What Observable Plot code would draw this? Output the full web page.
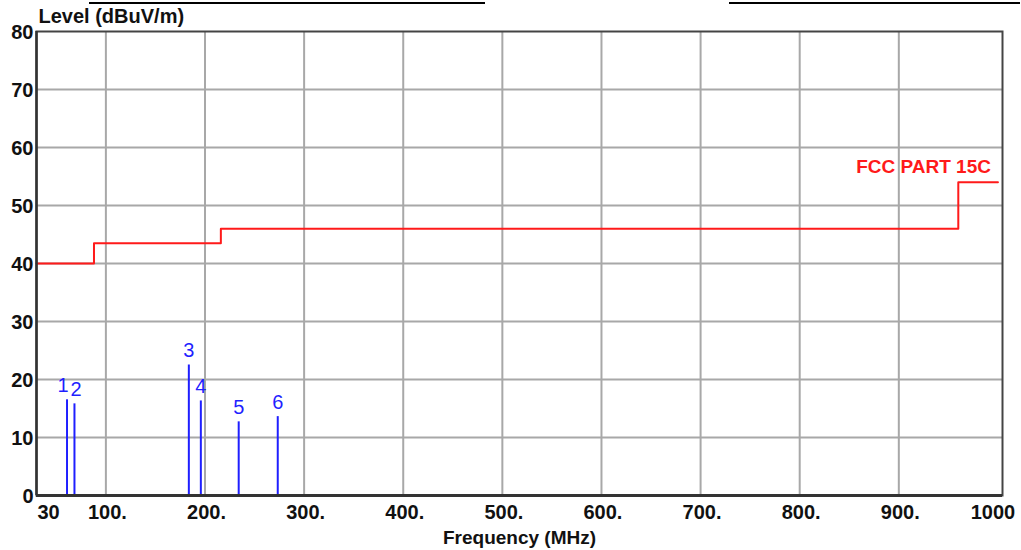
<!DOCTYPE html>
<html>
<head>
<meta charset="utf-8">
<script src="https://cdn.jsdelivr.net/npm/d3@7"></script>
<script src="https://cdn.jsdelivr.net/npm/@observablehq/plot@0.6"></script>
<style>
  html, body { margin: 0; padding: 0; background: #fff; }
  #wrap { position: relative; width: 1021px; height: 550px; }
  #wrap svg { display: block; position: absolute; left: 0; top: 0; }
  .hdr { position: absolute; top: 2px; height: 2px; background: #000; }
</style>
</head>
<body>
<div id="wrap">
  <div class="hdr" style="left:89px;width:396px;"></div>
  <div class="hdr" style="left:729px;width:291px;"></div>
</div>
<script>
// ---- data ----
const limitFreq = [30, 88, 216, 960, 1000];
const limitLevel = [40, 43.5, 46, 54, 54];
const limitName = "FCC PART 15C";

const markerNo = ["1", "2", "3", "4", "5", "6"];
const markerFreq = [60.8, 68.3, 183.7, 195.8, 234.0, 273.4];
const markerLevel = [16.5, 15.8, 22.5, 16.3, 12.7, 13.6];

const xTicks = [30, 100, 200, 300, 400, 500, 600, 700, 800, 900, 1000];
const xTickLabels = ["30", "100.", "200.", "300.", "400.", "500.", "600.", "700.", "800.", "900.", "1000"];
const xGrid = [100, 200, 300, 400, 500, 600, 700, 800, 900];
const yTicks = [0, 10, 20, 30, 40, 50, 60, 70, 80];
const yGrid = [10, 20, 30, 40, 50, 60, 70];

const yTitle = "Level (dBuV/m)";
const xTitle = "Frequency (MHz)";

// ---- tables ----
const limit = limitFreq.map((f, i) => ({f, v: limitLevel[i]}));
const markers = markerNo.map((n, i) => ({n, f: markerFreq[i], v: markerLevel[i], i}));
const mkFirst = markers.filter(d => d.i === 0);
const mkSecond = markers.filter(d => d.i === 1);
const mkRest = markers.filter(d => d.i > 1);
const xt = xTicks.map((t, i) => ({t, label: xTickLabels[i], i}));
const xtFirst = xt.filter(d => d.i === 0);
const xtLast = xt.filter(d => d.i === xt.length - 1);
const xtMid = xt.filter(d => d.i > 0 && d.i < xt.length - 1);

const FONT = "'Liberation Sans', Arial, Helvetica, sans-serif";
const DARK = "#111";
const BLUE = "#1f1fff";
const RED = "#ff1a1a";

const mkLabel = (data, dx) => Plot.text(data, {x: "f", y: "v", text: "n", dx, dy: -14, fill: BLUE, fontSize: 20, textAnchor: "middle", lineAnchor: "middle"});

const chart = Plot.plot({
  width: 1021,
  height: 550,
  marginTop: 31,
  marginBottom: 55,
  marginLeft: 36,
  marginRight: 19,
  style: {fontFamily: FONT, background: "transparent", overflow: "visible"},
  x: {domain: [30, 1004.6], axis: null},
  y: {domain: [0, 80], axis: null},
  marks: [
    Plot.ruleY(yGrid, {stroke: "#a8a8a8", strokeWidth: 2}),
    Plot.ruleX(xGrid, {stroke: "#a8a8a8", strokeWidth: 2}),
    Plot.line(limit, {x: "f", y: "v", curve: "step-after", stroke: RED, strokeWidth: 2}),
    Plot.ruleX(markers, {x: "f", y1: 0, y2: "v", stroke: BLUE, strokeWidth: 2}),
    mkLabel(mkFirst, -4),
    mkLabel(mkSecond, 1.5),
    mkLabel(mkRest, 0),
    Plot.text([limitName], {x: limitFreq[limitFreq.length - 1], y: limitLevel[limitLevel.length - 1], text: d => d, dx: -7, dy: -15.5, fill: RED, fontSize: 19, fontWeight: "bold", textAnchor: "end", lineAnchor: "middle"}),
    Plot.frame({stroke: "#444", strokeWidth: 2}),
    Plot.ruleY([0], {stroke: "#333", strokeWidth: 3}),
    Plot.ruleX([30], {stroke: "#333", strokeWidth: 2.5}),
    // y tick labels
    Plot.text(yTicks, {x: () => 30, y: d => d, text: d => String(d), dx: -3, dy: 1.5, fill: DARK, fontSize: 20, fontWeight: "bold", textAnchor: "end", lineAnchor: "middle"}),
    // x tick labels
    Plot.text(xtFirst, {x: "t", y: () => 0, text: "label", dx: 1, dy: 17.5, fill: DARK, fontSize: 20, fontWeight: "bold", textAnchor: "start", lineAnchor: "middle"}),
    Plot.text(xtMid, {x: "t", y: () => 0, text: "label", dx: 1.5, dy: 17.5, fill: DARK, fontSize: 20, fontWeight: "bold", textAnchor: "middle", lineAnchor: "middle"}),
    Plot.text(xtLast, {x: "t", y: () => 0, text: "label", dx: -5, dy: 17.5, fill: DARK, fontSize: 20, fontWeight: "bold", textAnchor: "middle", lineAnchor: "middle"}),
    // titles
    Plot.text([yTitle], {frameAnchor: "top-left", text: d => d, dx: 2, dy: -15, fill: DARK, fontSize: 20, fontWeight: "bold", textAnchor: "start", lineAnchor: "middle"}),
    Plot.text([xTitle], {frameAnchor: "bottom", text: d => d, dy: 42, fill: DARK, fontSize: 19, fontWeight: "bold", textAnchor: "middle", lineAnchor: "middle"})
  ]
});
document.getElementById("wrap").prepend(chart);
</script>
</body>
</html>
